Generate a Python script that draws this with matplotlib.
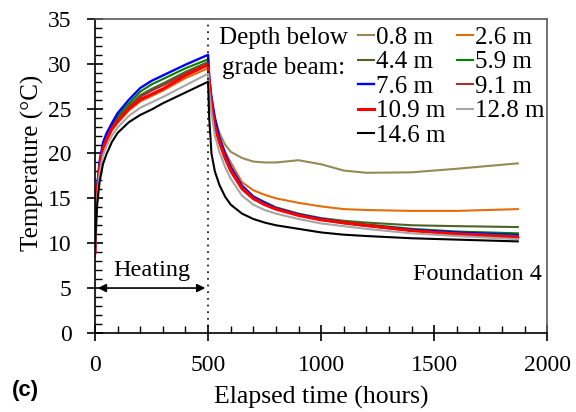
import matplotlib
matplotlib.use('Agg')
import matplotlib.pyplot as plt
from matplotlib.ticker import MultipleLocator

plt.rcParams['font.family'] = ['Liberation Serif', 'DejaVu Serif']

# elapsed time (hours): heating to 500 h, then recovery
hours = [0, 5, 10, 20, 35, 50, 75, 100, 150, 200, 250, 300, 400, 500,
         505, 515, 530, 550, 575, 600, 650, 700, 750, 800, 900, 1000, 1100, 1200, 1400, 1600, 1870]

depths = ['0.8 m', '2.6 m', '4.4 m', '5.9 m', '7.6 m', '9.1 m', '10.9 m', '12.8 m', '14.6 m']
colors = ['#948A54', '#E46C0A', '#4F6228', '#008000', '#0000FF', '#953735', '#FF0000', '#A6A6A6', '#000000']

temp_08 = [9.0, 13.8, 16.0, 18.6, 20.7, 21.7, 22.9, 23.8, 25.2, 26.4, 27.1, 27.7, 29.0, 30.1,
           28.0, 25.8, 23.8, 22.3, 21.0, 20.2, 19.5, 19.1, 19.0, 19.0, 19.25, 18.8, 18.1, 17.85, 17.9, 18.3, 18.9]
temp_26 = [9.0, 13.3, 15.6, 18.2, 20.3, 21.3, 22.6, 23.4, 24.8, 25.8, 26.4, 27.0, 28.4, 29.5,
           28.0, 25.8, 23.8, 21.8, 20.2, 19.0, 16.8, 15.9, 15.4, 15.0, 14.5, 14.1, 13.8, 13.7, 13.6, 13.6, 13.8]
temp_44 = [9.0, 13.8, 16.0, 18.6, 20.7, 21.7, 23.0, 23.9, 25.3, 26.5, 27.2, 27.8, 29.1, 30.2,
           28.0, 25.8, 23.5, 21.4, 19.8, 18.3, 16.4, 15.2, 14.6, 14.0, 13.3, 12.8, 12.5, 12.3, 12.0, 11.9, 11.8]
temp_59 = [8.5, 14.0, 16.2, 18.8, 20.9, 21.9, 23.1, 24.2, 25.6, 26.9, 27.7, 28.3, 29.5, 30.5,
           28.2, 26.0, 23.6, 21.5, 19.8, 18.3, 16.3, 15.1, 14.5, 13.9, 13.2, 12.7, 12.4, 12.1, 11.6, 11.3, 11.1]
temp_76 = [9.0, 14.5, 16.5, 19.1, 21.2, 22.2, 23.4, 24.5, 26.0, 27.3, 28.1, 28.7, 29.9, 31.0,
           28.5, 26.3, 24.0, 21.8, 20.0, 18.5, 16.4, 15.2, 14.5, 13.9, 13.2, 12.7, 12.3, 12.0, 11.5, 11.2, 10.9]
temp_91 = [9.0, 13.7, 15.9, 18.5, 20.6, 21.6, 22.8, 23.7, 25.1, 26.3, 27.0, 27.6, 28.9, 30.0,
           27.9, 25.5, 23.0, 21.2, 19.5, 18.0, 16.0, 14.9, 14.3, 13.8, 13.1, 12.6, 12.2, 11.9, 11.4, 11.1, 10.8]
temp_109 = [9.0, 13.5, 15.8, 18.4, 20.5, 21.5, 22.8, 23.6, 25.0, 26.0, 26.6, 27.2, 28.7, 29.9,
            28.0, 25.5, 23.0, 21.3, 19.5, 18.1, 16.1, 15.0, 14.3, 13.8, 13.1, 12.6, 12.3, 12.0, 11.4, 11.0, 10.6]
temp_128 = [9.0, 13.0, 15.2, 17.8, 19.8, 20.8, 22.0, 22.9, 24.2, 25.1, 25.7, 26.3, 27.6, 28.9,
            27.0, 24.5, 22.0, 20.2, 18.5, 17.2, 15.3, 14.3, 13.7, 13.3, 12.7, 12.2, 11.9, 11.6, 11.1, 10.8, 10.45]
temp_146 = [9.5, 12.5, 14.5, 16.8, 18.8, 19.9, 21.3, 22.3, 23.5, 24.3, 24.9, 25.6, 26.8, 28.0,
            24.0, 20.0, 18.0, 16.5, 15.2, 14.3, 13.3, 12.7, 12.3, 12.0, 11.6, 11.2, 10.95, 10.8, 10.55, 10.4, 10.2]

series = [temp_08, temp_26, temp_44, temp_59, temp_76, temp_91, temp_109, temp_128, temp_146]
widths = [1.5, 1.5, 1.5, 1.5, 1.7, 1.5, 2.2, 1.5, 1.5]

fig = plt.figure(figsize=(5.76, 4.12), dpi=100)
ax = fig.add_axes([0.165, 0.192, 0.785, 0.762])

lines = {}
for name, temps, c, lw in zip(depths, series, colors, widths):
    lines[name], = ax.plot(hours, temps, color=c, lw=lw, label=name)

# end of heating
ax.axvline(500, color='black', ls=(0, (1, 3)), lw=1.2)
ax.annotate('', xy=(0, 5), xytext=(500, 5),
            arrowprops=dict(arrowstyle='<|-|>', color='black', lw=1.2, mutation_scale=12))
ax.text(250, 5.8, 'Heating', ha='center', va='bottom', fontsize=17.5)
ax.text(1975, 6.5, 'Foundation 4', ha='right', va='center', fontsize=17.5)

ax.set_xlim(0, 2000)
ax.set_ylim(0, 35)
ax.xaxis.set_major_locator(MultipleLocator(500))
ax.xaxis.set_minor_locator(MultipleLocator(100))
ax.yaxis.set_major_locator(MultipleLocator(5))
ax.yaxis.set_minor_locator(MultipleLocator(1))
ax.tick_params(which='major', direction='inout', length=12, width=1.2, labelsize=17)
ax.tick_params(axis='y', which='major', pad=11)
ax.tick_params(axis='x', which='major', pad=10)
ax.tick_params(which='minor', direction='in', length=5, width=1.0)
for s in ['left', 'bottom']:
    ax.spines[s].set_linewidth(1.2)
for s in ['top', 'right']:
    ax.spines[s].set_color('#595959')
    ax.spines[s].set_linewidth(1.2)

ax.set_xlabel('Elapsed time (hours)', fontsize=18.5)
ax.set_ylabel('Temperature (°C)', fontsize=18)
ax.xaxis.set_label_coords(0.5, -0.17)
ax.yaxis.set_label_coords(-0.112, 0.54)

# row-wise legend order in two columns
col_order = ['0.8 m', '4.4 m', '7.6 m', '10.9 m', '14.6 m', '2.6 m', '5.9 m', '9.1 m', '12.8 m']
leg = ax.legend([lines[n] for n in col_order], col_order, ncol=2, loc='upper left',
                bbox_to_anchor=(0.582, 0.976), frameon=False, fontsize=18,
                handlelength=0.65, handletextpad=0.08, columnspacing=0.45,
                labelspacing=0.08, borderpad=0.0, borderaxespad=0.0)
ax.text(833, 32.9, 'Depth below', ha='center', va='center', fontsize=18)
ax.text(833, 29.5, 'grade beam:', ha='center', va='center', fontsize=18)

fig.text(0.02, 0.04, '(c)', fontsize=16, fontweight='bold', family='Liberation Sans')

fig.savefig('out.png', dpi=100)
